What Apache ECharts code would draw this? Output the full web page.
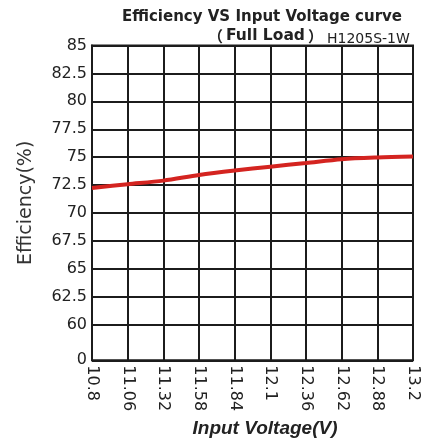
<!DOCTYPE html>
<html><head><meta charset="utf-8">
<script src="https://cdn.jsdelivr.net/npm/echarts@6/dist/echarts.min.js"></script>
<style>html,body{margin:0;padding:0;background:#fff}#c{width:426px;height:443px}</style>
</head><body><div id="c"></div>
<script>
const voltages = ['10.8','11.06','11.32','11.58','11.84','12.1','12.36','12.62','12.88','13.2'];
const efficiency = [72.25,72.58,72.9,73.4,73.8,74.15,74.48,74.82,74.97,75.05];
const yTickValues = [0,60,62.5,65,67.5,70,72.5,75,77.5,80,82.5,85];
const yTickLabels = ['0','60','62.5','65','67.5','70','72.5','75','77.5','80','82.5','85'];

// broken axis: 0..60 occupies a slightly taller band than each 2.5 step
const BREAK_GAP = 1.275;
function toAxis(v){ return v >= 60 ? (v - 60) / 2.5 : -BREAK_GAP + v / 60 * BREAK_GAP; }
const yAxisPositions = yTickValues.map(toAxis);

const ink = '#1c1c1c';
const chart = echarts.init(document.getElementById('c'), null, {renderer:'canvas'});
chart.setOption({
  animation: false,
  backgroundColor: '#fff',
  title: [
    {text: 'Efficiency VS Input Voltage curve', left: 117, top: 5,
     textStyle: {fontSize: 15, fontWeight: 'bold', color: '#222', fontFamily: 'DejaVu Sans'}},
    {text: '{l|（}{t|Full Load}{r|）}', left: 203, top: 23,
     textStyle: {fontSize: 15, fontWeight: 'bold', color: '#222', fontFamily: 'DejaVu Sans',
       rich: {
         l: {fontSize: 15, fontWeight: 'bold', color: '#222', fontFamily: 'Noto Sans CJK SC', padding: [0, 3, 0, 0]},
         t: {fontSize: 15.5, fontWeight: 'bold', color: '#222', fontFamily: 'DejaVu Sans'},
         r: {fontSize: 15, fontWeight: 'bold', color: '#222', fontFamily: 'Noto Sans CJK SC', padding: [0, 0, 0, 3]}
       }}},
    {text: 'H1205S-1W', left: 322, top: 27,
     textStyle: {fontSize: 14, fontWeight: 'normal', color: '#222', fontFamily: 'DejaVu Sans'}}
  ],
  grid: {left: 92, right: 13, top: 45.5, bottom: 81.5, show: true, borderColor: ink, borderWidth: 2, containLabel: false},
  xAxis: {
    type: 'category', data: voltages, boundaryGap: false,
    axisLine: {lineStyle: {color: ink, width: 2}},
    axisTick: {show: false},
    axisLabel: {rotate: -90, margin: 5, interval: 0, fontSize: 16, fontFamily: 'DejaVu Sans', color: '#222'},
    splitLine: {show: true, lineStyle: {color: ink, width: 2}},
    name: 'Input Voltage(V)', nameLocation: 'middle', nameGap: 56,
    nameTextStyle: {fontSize: 19, fontWeight: 'bold', fontStyle: 'italic', color: '#222', fontFamily: 'Liberation Sans', padding: [0, 0, 0, 25]}
  },
  yAxis: {
    type: 'value', min: -BREAK_GAP, max: 10,
    axisLine: {show: true, lineStyle: {color: ink, width: 2}},
    axisTick: {show: false, customValues: yAxisPositions},
    axisLabel: {customValues: yAxisPositions, margin: 5, fontSize: 16, fontFamily: 'DejaVu Sans', color: '#222',
      formatter: function(val){
        for (let i = 0; i < yAxisPositions.length; i++) if (Math.abs(yAxisPositions[i] - val) < 1e-6) return yTickLabels[i];
        return '';
      }},
    splitLine: {show: true, lineStyle: {color: ink, width: 2}},
    name: 'Efficiency(%)', nameLocation: 'middle', nameGap: 56, nameRotate: 90,
    nameTextStyle: {fontSize: 19, color: '#333', fontFamily: 'DejaVu Sans'}
  },
  series: [{
    type: 'line', smooth: 0.3, symbol: 'none',
    data: efficiency.map(toAxis),
    lineStyle: {color: '#d42420', width: 4}
  }]
});
</script></body></html>
